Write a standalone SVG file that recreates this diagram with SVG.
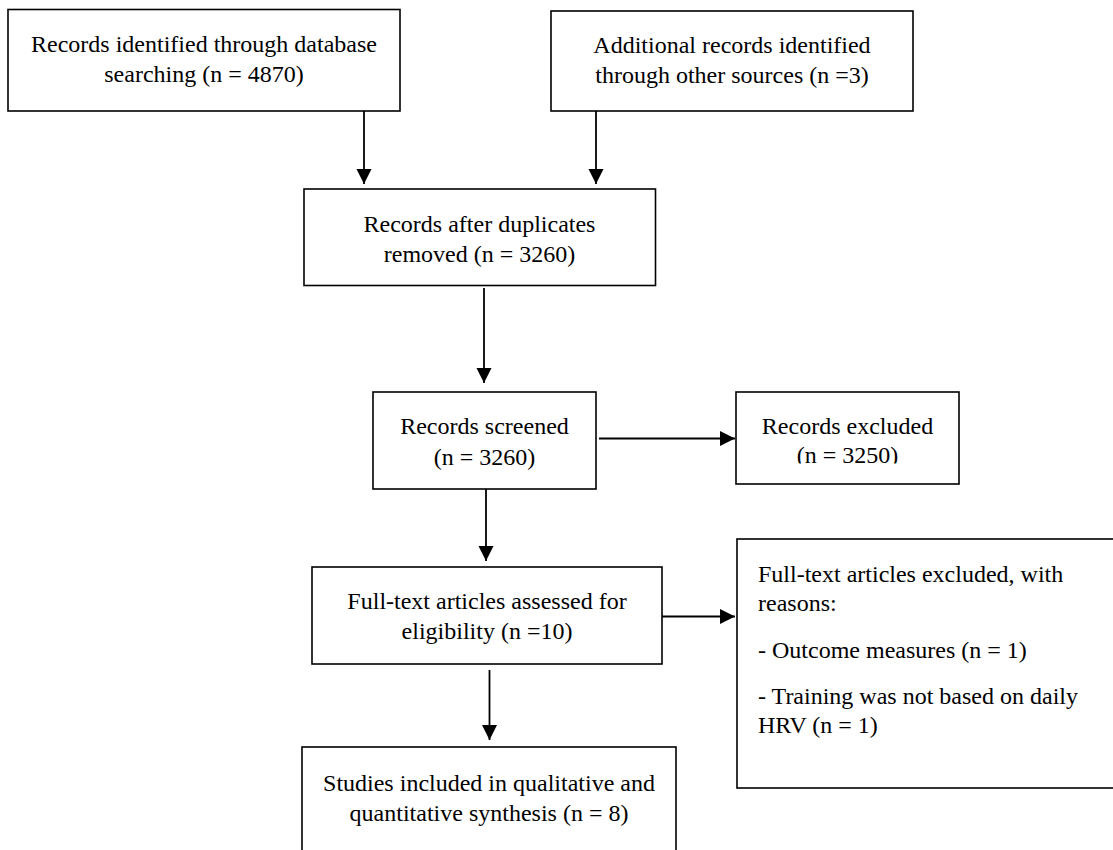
<svg xmlns="http://www.w3.org/2000/svg" width="1113" height="850" viewBox="0 0 1113 850">
<style>
.box{fill:#fff;stroke:#000;stroke-width:1.6}
.t{font-family:"Liberation Serif","Times New Roman",serif;font-size:24px;fill:#000}
.c{text-anchor:middle}
.ln{stroke:#000;stroke-width:1.8;fill:none}
</style>
<defs>
<marker id="ah" markerUnits="userSpaceOnUse" markerWidth="16" markerHeight="16" viewBox="0 0 16 16" refX="15" refY="8" orient="auto">
<polygon points="0,0.5 15,8 0,15.5" fill="#000"/>
</marker>
<clipPath id="clip5"><rect x="736" y="392" width="224" height="71.5"/></clipPath>
</defs>
<rect width="1113" height="850" fill="#fff"/>
<g id="connectors">
<line class="ln" x1="364" y1="111" x2="364" y2="184" marker-end="url(#ah)"/>
<line class="ln" x1="596" y1="111" x2="596" y2="184" marker-end="url(#ah)"/>
<line class="ln" x1="484" y1="288" x2="484" y2="383" marker-end="url(#ah)"/>
<line class="ln" x1="599" y1="438.5" x2="735" y2="438.5" marker-end="url(#ah)"/>
<line class="ln" x1="486" y1="489" x2="486" y2="561" marker-end="url(#ah)"/>
<line class="ln" x1="662" y1="616.5" x2="735" y2="616.5" marker-end="url(#ah)"/>
<line class="ln" x1="489.5" y1="670" x2="489.5" y2="740" marker-end="url(#ah)"/>
</g>
<g id="n1">
<rect class="box" x="8" y="9.5" width="392" height="101.5"/>
<text class="t c" x="204" y="52">Records identified through database</text>
<text class="t c" x="204" y="82">searching (n = 4870)</text>
</g>
<g id="n2">
<rect class="box" x="551" y="11" width="362" height="100"/>
<text class="t c" x="732" y="53">Additional records identified</text>
<text class="t c" x="732" y="83">through other sources (n =3)</text>
</g>
<g id="n3">
<rect class="box" x="304" y="189" width="351.5" height="96.5"/>
<text class="t c" x="479.5" y="232">Records after duplicates</text>
<text class="t c" x="479.5" y="262">removed (n = 3260)</text>
</g>
<g id="n4">
<rect class="box" x="373" y="392" width="223" height="97"/>
<text class="t c" x="484.5" y="434">Records screened</text>
<text class="t c" x="484.5" y="465">(n = 3260)</text>
</g>
<g id="n5">
<rect class="box" x="736" y="392" width="223" height="92"/>
<text class="t c" x="847.5" y="434">Records excluded</text>
<text class="t c" x="847.5" y="463" clip-path="url(#clip5)">(n = 3250)</text>
</g>
<g id="n6">
<rect class="box" x="312" y="567" width="350" height="97"/>
<text class="t c" x="487" y="609">Full-text articles assessed for</text>
<text class="t c" x="487" y="639">eligibility (n =10)</text>
</g>
<g id="n7">
<rect class="box" x="737" y="539" width="400" height="249"/>
<text class="t" x="758" y="582">Full-text articles excluded, with</text>
<text class="t" x="758" y="611">reasons:</text>
<text class="t" x="758" y="658">- Outcome measures (n = 1)</text>
<text class="t" x="758" y="704">- Training was not based on daily</text>
<text class="t" x="758" y="733">HRV (n = 1)</text>
</g>
<g id="n8">
<rect class="box" x="302" y="747" width="374" height="130"/>
<text class="t c" x="489" y="791">Studies included in qualitative and</text>
<text class="t c" x="489" y="821">quantitative synthesis (n = 8)</text>
</g>
</svg>
